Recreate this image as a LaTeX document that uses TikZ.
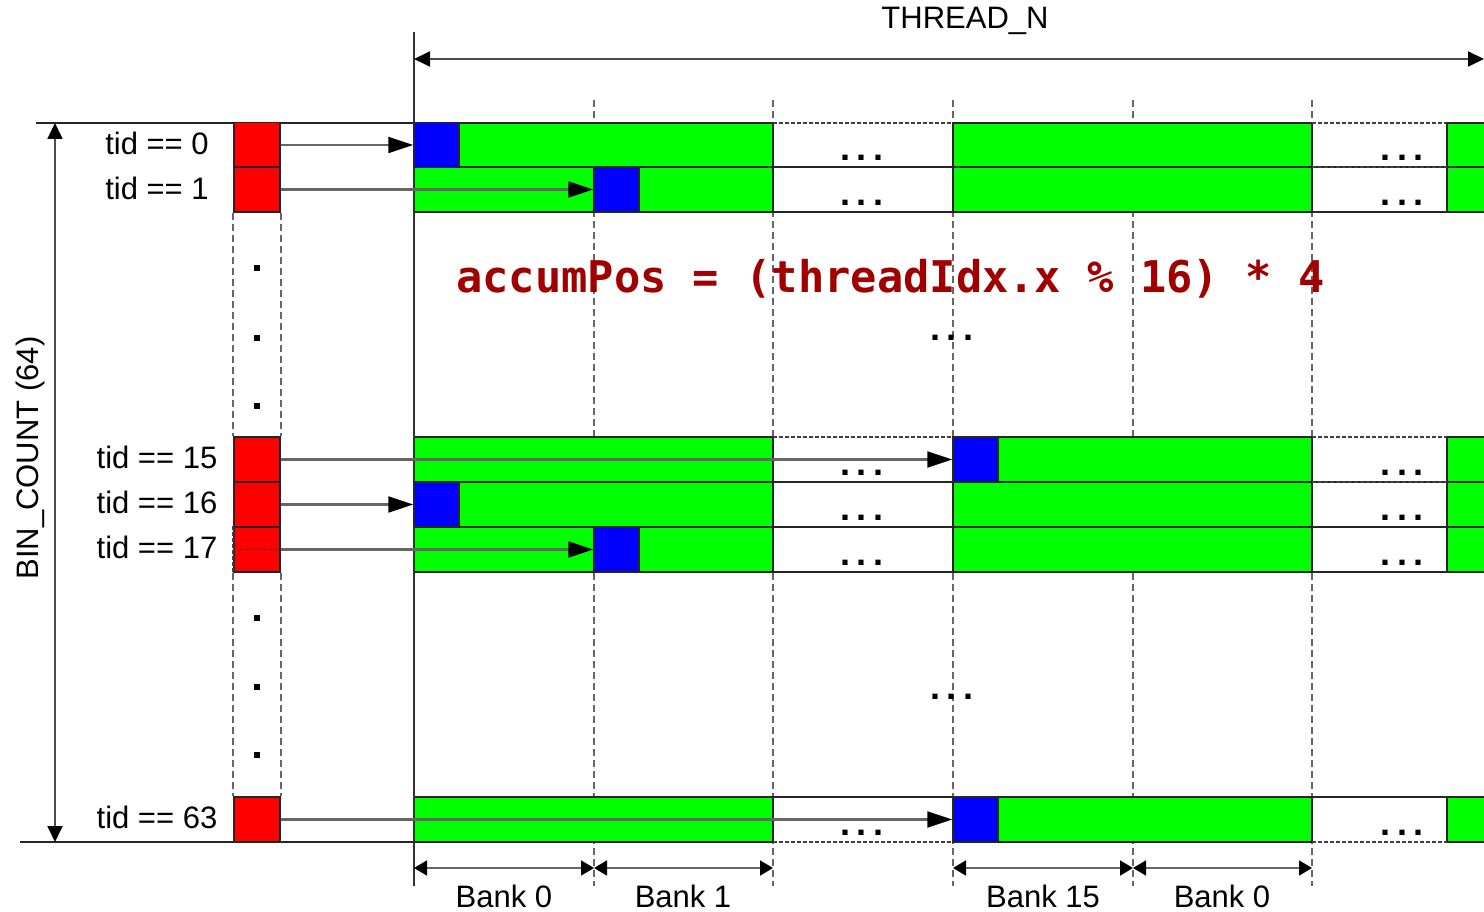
\documentclass[tikz,border=0pt]{standalone}
\usepackage{fontspec}
\setmainfont{Liberation Sans}
\newfontfamily\codefont{DejaVu Sans Mono}
\usetikzlibrary{arrows.meta}
\definecolor{codered}{RGB}{160,0,0}
\definecolor{gfill}{RGB}{0,255,0}
\definecolor{bfill}{RGB}{0,0,255}
\definecolor{rfill}{RGB}{255,0,0}
\begin{document}
\begin{tikzpicture}[x=1pt,y=-1pt,
  lbl/.style={font=\fontsize{31}{31}\selectfont, inner sep=0pt},
  dots/.style={font=\fontsize{36}{36}\selectfont\bfseries, inner sep=0pt},
  redbox/.style={draw=black!85, fill=rfill, line width=1.8pt, minimum width=46pt, minimum height=45pt, inner sep=0pt},
  bluebox/.style={draw=black!85, fill=bfill, line width=1.5pt, minimum width=45pt, minimum height=45pt, inner sep=0pt},
  gbox/.style={draw=black!85, fill=gfill, line width=1.8pt},
  wline/.style={draw=black!75, line width=1.5pt, dash pattern=on 4pt off 2pt},
  sline/.style={draw=black!85, line width=1.8pt},
  vdash/.style={draw=black!60, line width=1.4pt, dash pattern=on 7pt off 4pt},
  arr/.style={draw=black!60, line width=2.2pt, -{Triangle[length=25pt,width=16pt,color=black]}},
  dim/.style={draw=black!70, line width=1.8pt, {Triangle[length=16pt,width=15pt,color=black]}-{Triangle[length=16pt,width=15pt,color=black]}},
  bdim/.style={draw=black!60, line width=1.8pt, {Triangle[length=13pt,width=15pt,color=black]}-{Triangle[length=13pt,width=15pt,color=black]}}
]
\useasboundingbox (0,0) rectangle (1484,912);

% vertical dashed bank lines
\foreach \x in {594,773,953,1133,1312}
  \draw[vdash] (\x,100) -- (\x,886);

% green rows
\foreach \a/\b [count=\i] in {123/167,167/212,437/482,482/527,527/572,797/842} {
  \draw[gbox] (414,\a) rectangle (773,\b);
  \draw[gbox] (953,\a) rectangle (1312,\b);
  \draw[gbox] (1447,\a) rectangle (1500,\b);
  \node[dots] (da\i) at (862,\b-9) {.\kern7pt.\kern7pt.};
  \node[dots] (db\i) at (1402,\b-9) {.\kern7pt.\kern7pt.};
}
% white-region borders
\foreach \y in {123,437} {
  \draw[wline] (773,\y) -- (953,\y);
  \draw[wline] (1312,\y) -- (1447,\y);
}
\foreach \y in {167,212,482,527,572,797} {
  \draw[sline] (773,\y) -- (953,\y);
  \draw[sline] (1312,\y) -- (1447,\y);
}
\draw[wline] (773,842) -- (953,842);
\draw[wline] (1312,842) -- (1447,842);
\draw[wline] (1312,167) -- (1447,167);
\draw[wline] (1312,482) -- (1447,482);

% extension lines
\draw[sline] (36,123) -- (414,123);
\draw[sline] (20,842) -- (414,842);
\draw[line width=1.8pt, draw=black!80] (414,32) -- (414,886);

% red boxes
\node[redbox] (r0)  at (257,145)   {};
\node[redbox] (r1)  at (257,189.5) {};
\node[redbox] (r15) at (257,459.5) {};
\node[redbox] (r16) at (257,504.5) {};
\node[redbox] (r17) at (257,549.5) {};
\node[redbox] (r63) at (257,819.5) {};

% blue boxes
\node[bluebox] (b0)  at (436.5,145)   {};
\node[bluebox] (b1)  at (616.5,189.5) {};
\node[bluebox] (b15) at (975.5,459.5) {};
\node[bluebox] (b16) at (436.5,504.5) {};
\node[bluebox] (b17) at (616.5,549.5) {};
\node[bluebox] (b63) at (975.5,819.5) {};

% dashed column between red boxes
\draw[vdash] (r1.south west) -- (r15.north west);
\draw[vdash] (r1.south east) -- (r15.north east);
\draw[vdash] (r17.south west) -- (r63.north west);
\draw[vdash] (r17.south east) -- (r63.north east);
\draw[wline] (r17.west) -- (r17.east);
\draw[wline] (r17.north west) -- (r17.south west);

\foreach \y [count=\i] in {268,338,406,618,687,755}
  \fill (253.5,\y-3) rectangle +(6,6);

% arrows
\draw[arr] (r0.east)  -- (b0.west);
\draw[arr] (r1.east)  -- (b1.west);
\draw[arr] (r15.east) -- (b15.west);
\draw[arr] (r16.east) -- (b16.west);
\draw[arr] (r17.east) -- (b17.west);
\draw[arr] (r63.east) -- (b63.west);

% labels
\node[lbl] (t0)  at (157,143) {tid == 0};
\node[lbl] (t1)  at (157,188) {tid == 1};
\node[lbl] (t15) at (157,457) {tid == 15};
\node[lbl] (t16) at (157,502) {tid == 16};
\node[lbl] (t17) at (157,547) {tid == 17};
\node[lbl] (t63) at (157,817) {tid == 63};

% middle dots
\node[dots] (m1) at (952,338) {.\kern7pt.\kern7pt.};
\node[dots] (m2) at (952,697) {.\kern7pt.\kern7pt.};

% THREAD_N
\coordinate (tn1) at (414,59);
\coordinate (tn2) at (1484,59);
\draw[dim] (tn1) -- (tn2);
\node[lbl] (tn) at (965,21) {THREAD\_N};

% BIN_COUNT
\coordinate (bc1) at (55,123);
\coordinate (bc2) at (55,842);
\draw[dim] (bc1) -- (bc2);
\node[lbl, rotate=90] (bc) at (30,458) {BIN\_COUNT (64)};

% banks
\coordinate (k0) at (414,868);
\coordinate (k1) at (594,868);
\coordinate (k2) at (773,868);
\coordinate (k3) at (953,868);
\coordinate (k4) at (1133,868);
\coordinate (k5) at (1312,868);
\draw[bdim] (k0) -- (k1);
\draw[bdim] (k1) -- (k2);
\draw[bdim] (k3) -- (k4);
\draw[bdim] (k4) -- (k5);
\node[lbl] (bk0) at (504,896) {Bank 0};
\node[lbl] (bk1) at (683,896) {Bank 1};
\node[lbl] (bk15) at (1043,896) {Bank 15};
\node[lbl] (bk0b) at (1222,896) {Bank 0};

% code
\node[anchor=base west, inner sep=0pt, text=codered, font=\codefont\bfseries\fontsize{43.7}{44}\selectfont] (code) at (456,292) {accumPos = (threadIdx.x \% 16) * 4};
\end{tikzpicture}
\end{document}
